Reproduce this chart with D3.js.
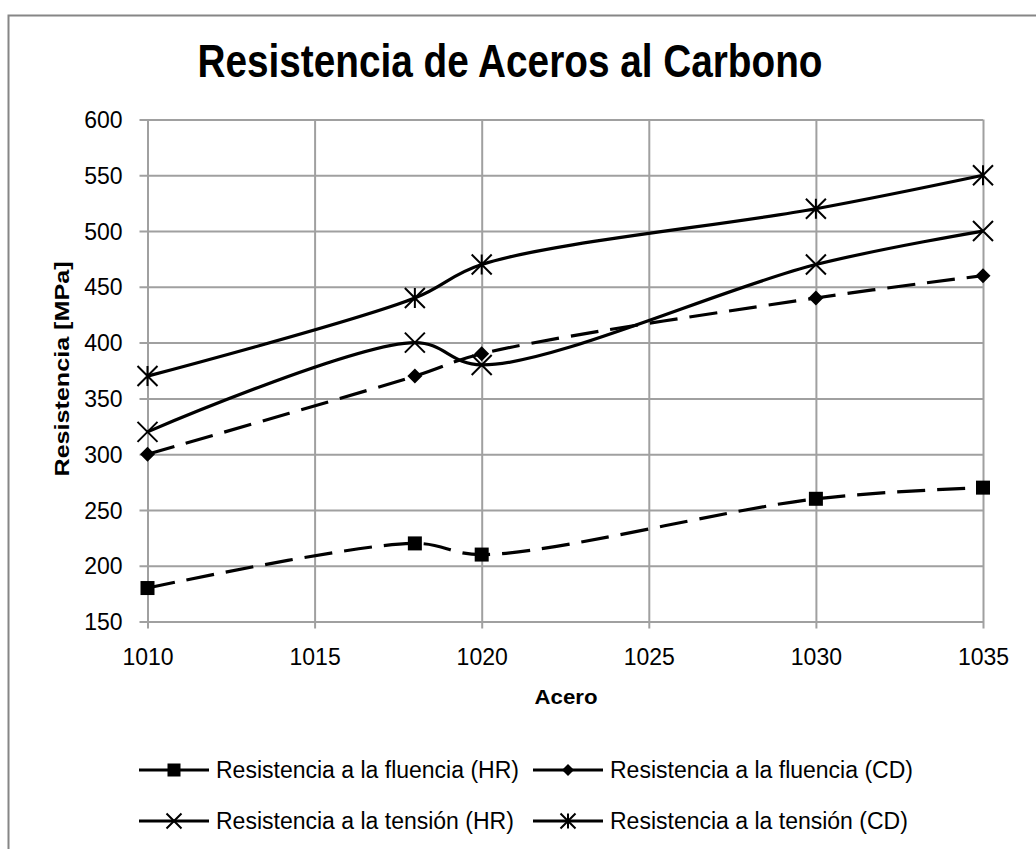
<!DOCTYPE html>
<html>
<head>
<meta charset="utf-8">
<script src="https://cdn.jsdelivr.net/npm/d3@7"></script>
<style>
  html, body { margin: 0; padding: 0; background: #fff; }
  svg { display: block; font-family: "Liberation Sans", Arial, sans-serif; }
</style>
</head>
<body>
<svg id="chart" width="1036" height="849"></svg>
<script>
// Steel grades (AISI) on the x axis
const grades = [1010, 1018, 1020, 1030, 1035];

// Strength values in MPa
const yieldHR   = [180, 220, 210, 260, 270];
const yieldCD   = [300, 370, 390, 440, 460];
const tensileHR = [320, 400, 380, 470, 500];
const tensileCD = [370, 440, 470, 520, 550];

const seriesNames = [
  "Resistencia a la fluencia (HR)",
  "Resistencia a la fluencia (CD)",
  "Resistencia a la tensión (HR)",
  "Resistencia a la tensión (CD)"
];

const xTicks = [1010, 1015, 1020, 1025, 1030, 1035];
const yTicks = [150, 200, 250, 300, 350, 400, 450, 500, 550, 600];

const title = "Resistencia de Aceros al Carbono";
const xTitle = "Acero";
const yTitle = "Resistencia [MPa]";

const svg = d3.select("#chart");

// Chart frame
svg.append("rect")
  .attr("x", 8.5).attr("y", 15.5)
  .attr("width", 1100).attr("height", 900)
  .attr("fill", "#fff")
  .attr("stroke", "#868686")
  .attr("stroke-width", 2);

const plotL = 147.5, plotR = 983, plotT = 119.5, plotB = 621.5;

const x = d3.scaleLinear().domain([1010, 1035]).range([plotL, plotR]);
const y = d3.scaleLinear().domain([150, 600]).range([plotB, plotT]);

const gridColor = "#a0a0a0";

// Horizontal gridlines with tick stubs on the left
const yAxis = svg.append("g")
  .attr("transform", `translate(${plotL},0)`)
  .call(d3.axisLeft(y).tickValues(yTicks).tickSize(-(plotR - plotL)).tickSizeOuter(0).tickPadding(0));
yAxis.select(".domain").remove();
yAxis.selectAll(".tick line")
  .attr("x1", -8)
  .attr("stroke", gridColor).attr("stroke-width", 2);
yAxis.selectAll(".tick text")
  .attr("x", -25)
  .attr("dy", "0.35em")
  .attr("fill", "#000")
  .style("font-size", "23px");

// Vertical gridlines with tick stubs below
const xAxis = svg.append("g")
  .attr("transform", `translate(0,${plotB})`)
  .call(d3.axisBottom(x).tickValues(xTicks).tickFormat(d3.format("d")).tickSize(-(plotB - plotT)).tickSizeOuter(0).tickPadding(0));
xAxis.select(".domain").remove();
xAxis.selectAll(".tick line")
  .attr("y1", 7)
  .attr("stroke", gridColor).attr("stroke-width", 2);
xAxis.selectAll(".tick text")
  .attr("y", 43)
  .attr("dy", 0)
  .attr("fill", "#000")
  .style("font-size", "23px");

// Title and axis titles
svg.append("text")
  .attr("x", 510).attr("y", 77)
  .attr("text-anchor", "middle")
  .attr("textLength", 625)
  .attr("lengthAdjust", "spacingAndGlyphs")
  .style("font-size", "46px").style("font-weight", "bold")
  .text(title);

svg.append("text")
  .attr("x", 566).attr("y", 704)
  .attr("text-anchor", "middle")
  .attr("textLength", 63)
  .attr("lengthAdjust", "spacingAndGlyphs")
  .style("font-size", "21px").style("font-weight", "bold")
  .text(xTitle);

svg.append("text")
  .attr("transform", "translate(69,369) rotate(-90)")
  .attr("text-anchor", "middle")
  .attr("textLength", 215)
  .attr("lengthAdjust", "spacingAndGlyphs")
  .style("font-size", "21px").style("font-weight", "bold")
  .text(yTitle);

// Series definitions
const series = [
  { name: seriesNames[0], values: yieldHR,   dash: "28,12", marker: "square" },
  { name: seriesNames[1], values: yieldCD,   dash: "28,12", marker: "diamond" },
  { name: seriesNames[2], values: tensileHR, dash: null,    marker: "cross" },
  { name: seriesNames[3], values: tensileCD, dash: null,    marker: "star" }
];

const line = d3.line()
  .x(d => x(d[0]))
  .y(d => y(d[1]))
  .curve(d3.curveCatmullRom.alpha(0.5));

// Marker drawing helper
function drawMarker(g, kind, cx, cy, s) {
  if (kind === "square") {
    g.append("rect")
      .attr("x", cx - s / 2).attr("y", cy - s / 2)
      .attr("width", s).attr("height", s)
      .attr("fill", "#000");
  } else if (kind === "diamond") {
    const h = s / 2;
    g.append("path")
      .attr("d", `M${cx},${cy - h}L${cx + h},${cy}L${cx},${cy + h}L${cx - h},${cy}Z`)
      .attr("fill", "#000");
  } else {
    const h = s / 2;
    let d = `M${cx - h},${cy - h}L${cx + h},${cy + h}M${cx - h},${cy + h}L${cx + h},${cy - h}`;
    if (kind === "star") d += `M${cx},${cy - h}L${cx},${cy + h}`;
    g.append("path")
      .attr("d", d)
      .attr("stroke", "#000").attr("stroke-width", 2).attr("fill", "none");
  }
}

const markerSize = { square: 14, diamond: 15, cross: 20, star: 20 };

series.forEach(s => {
  const pts = grades.map((g, i) => [g, s.values[i]]);
  svg.append("path")
    .datum(pts)
    .attr("d", line)
    .attr("fill", "none")
    .attr("stroke", "#000")
    .attr("stroke-width", 3.2)
    .attr("stroke-dasharray", s.dash)
    .attr("stroke-linecap", "butt");
  const mg = svg.append("g");
  pts.forEach(p => drawMarker(mg, s.marker, x(p[0]), y(p[1]), markerSize[s.marker]));
});

// Legend
const legendPos = [
  { lx: 139, ly: 770 },
  { lx: 533, ly: 770 },
  { lx: 139, ly: 821 },
  { lx: 533, ly: 821 }
];
const legendMarker = { square: 13, diamond: 12, cross: 15, star: 15 };

series.forEach((s, i) => {
  const p = legendPos[i];
  const g = svg.append("g");
  g.append("line")
    .attr("x1", p.lx).attr("x2", p.lx + 70)
    .attr("y1", p.ly).attr("y2", p.ly)
    .attr("stroke", "#000").attr("stroke-width", 3.2);
  drawMarker(g, s.marker, p.lx + 35, p.ly, legendMarker[s.marker]);
  g.append("text")
    .attr("x", p.lx + 77).attr("y", p.ly)
    .attr("dy", "0.35em")
    .style("font-size", "23px")
    .text(s.name);
});
</script>
</body>
</html>
